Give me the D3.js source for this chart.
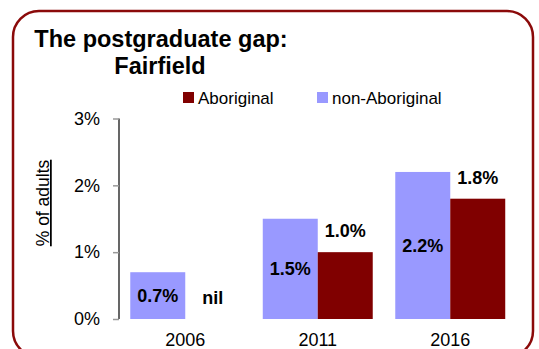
<!DOCTYPE html>
<html>
<head>
<meta charset="utf-8">
<script src="https://cdn.jsdelivr.net/npm/d3@7"></script>
<style>
  html, body { margin: 0; padding: 0; background: #fff; }
  svg { display: block; font-family: "Liberation Sans", Arial, Helvetica, sans-serif; }
</style>
</head>
<body>
<svg id="chart" width="539" height="349"></svg>
<script>
// Postgraduate qualification rates, Fairfield (% of adults)
const years = ["2006", "2011", "2016"];
const seriesNames = ["non-Aboriginal", "Aboriginal"];
const nonAboriginal = [0.7, 1.5, 2.2];
const aboriginal = [0, 1.0, 1.8];
const valueLabelsNonAboriginal = ["0.7%", "1.5%", "2.2%"];
const valueLabelsAboriginal = ["nil", "1.0%", "1.8%"];
const yTicks = [0, 1, 2, 3];
const yTickLabels = ["0%", "1%", "2%", "3%"];

const colors = { "non-Aboriginal": "#9999ff", "Aboriginal": "#800000" };

const rows = years.map((y, i) => ({
  year: y,
  values: [
    { series: "non-Aboriginal", value: nonAboriginal[i], label: valueLabelsNonAboriginal[i] },
    { series: "Aboriginal", value: aboriginal[i], label: valueLabelsAboriginal[i] }
  ]
}));

const svg = d3.select("#chart");

// Rounded frame around the whole chart
svg.append("rect")
  .attr("x", 13).attr("y", 11)
  .attr("width", 520).attr("height", 346)
  .attr("rx", 26).attr("ry", 26)
  .attr("fill", "none")
  .attr("stroke", "#8b0a0a")
  .attr("stroke-width", 2.5);

// Title
const title = svg.append("text")
  .attr("font-weight", "bold")
  .attr("font-size", "23.5px")
  .attr("fill", "#000")
  .attr("text-anchor", "middle");
title.append("tspan").attr("x", 161).attr("y", 47).text("The postgraduate gap:");
title.append("tspan").attr("x", 160).attr("y", 74).text("Fairfield");

// Scales
const x0 = d3.scaleBand()
  .domain(years)
  .range([119, 516.5])
  .paddingInner(0.17)
  .paddingOuter(0.085);

const x1 = d3.scaleBand()
  .domain(seriesNames)
  .range([0, x0.bandwidth()]);

const y = d3.scaleLinear()
  .domain([0, 3])
  .range([319, 118.5]);

// Bars
const groups = svg.append("g").selectAll("g")
  .data(rows)
  .join("g")
  .attr("transform", d => `translate(${x0(d.year)},0)`);

groups.selectAll("rect")
  .data(d => d.values)
  .join("rect")
  .attr("x", d => x1(d.series))
  .attr("y", d => y(d.value))
  .attr("width", x1.bandwidth())
  .attr("height", d => y(0) - y(d.value))
  .attr("fill", d => colors[d.series]);

// Value labels: inside-centre for non-Aboriginal, above the bar for Aboriginal
groups.selectAll("text")
  .data(d => d.values)
  .join("text")
  .attr("x", d => x1(d.series) + x1.bandwidth() / 2)
  .attr("y", d => d.series === "non-Aboriginal"
    ? (y(d.value) + y(0)) / 2
    : y(d.value) - 21)
  .attr("dy", "0.35em")
  .attr("text-anchor", "middle")
  .attr("font-weight", "bold")
  .attr("font-size", "18px")
  .attr("fill", "#000")
  .text(d => d.label);

// Y axis
const yAxis = d3.axisLeft(y)
  .tickValues(yTicks)
  .tickFormat((d, i) => yTickLabels[i])
  .tickSize(6)
  .tickPadding(13);

const yg = svg.append("g")
  .attr("transform", "translate(119,0)")
  .call(yAxis);
yg.select(".domain").attr("stroke", "#000").attr("stroke-width", 1.2)
  .attr("d", `M0,${y(3)}V${y(0)}`);
yg.selectAll(".tick line").attr("stroke", "#999").attr("stroke-width", 1.5);
yg.selectAll(".tick text")
  .attr("font-size", "18px")
  .attr("fill", "#000")
  .attr("font-family", "Liberation Sans, Arial, sans-serif");

// X axis labels (no axis line)
const xAxis = d3.axisBottom(x0).tickSize(0).tickPadding(0);
const xg = svg.append("g")
  .attr("transform", "translate(0,333)")
  .call(xAxis);
xg.select(".domain").remove();
xg.selectAll(".tick text")
  .attr("dy", "0.71em")
  .attr("font-size", "18px")
  .attr("fill", "#000")
  .attr("font-family", "Liberation Sans, Arial, sans-serif");

// Y axis title
svg.append("text")
  .attr("transform", "translate(49,203) rotate(-90)")
  .attr("text-anchor", "middle")
  .attr("font-size", "17.5px")
  .attr("fill", "#000")
  .style("text-decoration", "underline")
  .text("% of adults");

// Legend
const legendItems = [
  { name: "Aboriginal", x: 183 },
  { name: "non-Aboriginal", x: 317 }
];
const legend = svg.append("g").selectAll("g")
  .data(legendItems)
  .join("g")
  .attr("transform", d => `translate(${d.x},92)`);
legend.append("rect")
  .attr("width", 11).attr("height", 11)
  .attr("fill", d => colors[d.name]);
legend.append("text")
  .attr("x", 15).attr("y", 12)
  .attr("font-size", "17px")
  .attr("fill", "#000")
  .text(d => d.name);
</script>
</body>
</html>
